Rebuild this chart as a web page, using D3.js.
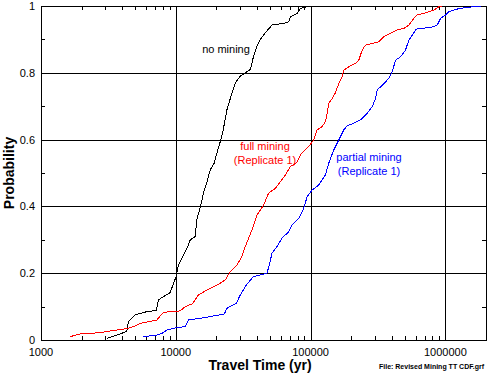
<!DOCTYPE html>
<meta charset="utf-8">
<style>

body {
  margin: 0;
  background: #fff;
}

text {
  font-family: "Liberation Sans", Arial, Helvetica, sans-serif;
}

.tick-label {
  font-size: 11px;
  fill: #000;
}

.axis-title {
  font-size: 14px;
  font-weight: bold;
}

.grid {
  stroke: #000;
  stroke-width: 1px;
  shape-rendering: crispEdges;
}

.curve {
  fill: none;
  stroke-width: 1px;
  shape-rendering: crispEdges;
}

.note {
  font-size: 11px;
}

</style>
<svg width="487" height="374"></svg>
<script src="https://d3js.org/d3.v7.min.js"></script>
<script>

// travel time (yr) and cumulative probability
var noMiningTime = [3110, 3980, 4330, 4450, 4990, 6100, 7150, 7440, 8100, 9080, 9620, 10070, 10470, 10910, 11740,
  12250, 12800, 13940, 14300, 15260, 15850, 16250, 16970, 18010, 19280, 20190, 21370, 22490, 23980, 26120,
  27620, 30070, 32800, 35720, 37760, 40040, 42380, 46140, 51760, 63100, 68760, 70760, 79400, 84000, 94200, 100000];
var noMiningProb = [0.005, 0.02, 0.027, 0.055, 0.075, 0.085, 0.088, 0.12, 0.13, 0.142, 0.17, 0.19, 0.225, 0.24, 0.264,
  0.28, 0.30, 0.31, 0.36, 0.40, 0.43, 0.45, 0.47, 0.51, 0.53, 0.56, 0.594, 0.63, 0.69, 0.74,
  0.77, 0.79, 0.80, 0.81, 0.85, 0.88, 0.90, 0.92, 0.943, 0.948, 0.953, 0.968, 0.978, 0.993, 0.998, 1.0];

var fullMiningTime = [1643, 1949, 2743, 3651, 4331, 5140, 5440, 7235, 8100, 10780, 11740, 13240, 14740, 18010,
  21370, 23280, 25360, 28440, 30970, 32780, 36740, 40040, 44830, 48840, 54770, 59660, 65000, 70760, 78430,
  84000, 91450, 96800, 105400, 111700, 121700, 128800, 132700, 136300, 144500, 152800, 161800, 171400,
  176200, 191900, 215300, 227700, 241300, 255300, 286400, 320600, 349400, 391800, 439300, 491700, 535600,
  583400, 618000, 692300, 821400, 894800, 950000];
var fullMiningProb = [0.01, 0.018, 0.022, 0.03, 0.034, 0.044, 0.05, 0.06, 0.083, 0.087, 0.10, 0.108, 0.135, 0.155,
  0.17, 0.18, 0.205, 0.225, 0.25, 0.28, 0.33, 0.374, 0.404, 0.44, 0.454, 0.474, 0.494, 0.52, 0.53,
  0.554, 0.57, 0.579, 0.599, 0.629, 0.639, 0.654, 0.679, 0.709, 0.723, 0.74, 0.768, 0.788,
  0.808, 0.818, 0.828, 0.838, 0.868, 0.883, 0.888, 0.893, 0.908, 0.918, 0.928, 0.933, 0.943,
  0.963, 0.973, 0.978, 0.988, 0.998, 1.0];

var partialMiningTime = [5755, 7235, 8100, 8590, 10190, 11740, 12430, 15180, 19060, 22890, 23980, 28100, 30090,
  33350, 36740, 37760, 47530, 49680, 51760, 56360, 61390, 68760, 72880, 81580, 88870, 94200, 102600,
  114800, 128800, 136300, 148500, 161800, 176200, 186700, 209100, 234400, 263000, 286400, 303000, 311800,
  330100, 359500, 380300, 403200, 426600, 464500, 505800, 535600, 567600, 600800, 621700, 776800, 870900,
  920600, 1003000, 1062000, 1190000, 1455000, 1826000];
var partialMiningProb = [0.01, 0.015, 0.022, 0.03, 0.037, 0.04, 0.06, 0.065, 0.072, 0.078, 0.095, 0.11, 0.135,
  0.165, 0.185, 0.19, 0.20, 0.23, 0.26, 0.28, 0.305, 0.324, 0.344, 0.364, 0.394, 0.429, 0.449,
  0.464, 0.494, 0.529, 0.569, 0.599, 0.629, 0.641, 0.649, 0.659, 0.679, 0.699, 0.723, 0.749,
  0.758, 0.773, 0.783, 0.803, 0.838, 0.848, 0.868, 0.898, 0.913, 0.928, 0.933, 0.935, 0.943,
  0.963, 0.973, 0.983, 0.99, 0.996, 1.0];

var xTickValues = [1000, 10000, 100000, 1000000];
var yTickValues = [0, 0.2, 0.4, 0.6, 0.8, 1];
var yMinorValues = [0.1, 0.3, 0.5, 0.7, 0.9];

var svg = d3.select("svg"),
    plotLeft = 41, plotRight = 486, plotTop = 6, plotBottom = 340;

var x = d3.scaleLog().domain([1000, 2000000]).range([plotLeft, plotRight]);
var y = d3.scaleLinear().domain([0, 1]).range([plotBottom, plotTop]);

// minor x ticks: 2..9 in each decade
var xMinorValues = x.ticks().filter(function(d) {
  return xTickValues.indexOf(d) < 0 && d < 2000000;
});

var g = svg.append("g");

// major grid lines
g.selectAll(".vgrid")
  .data(xTickValues.slice(1))
  .enter().append("line")
    .attr("class", "grid")
    .attr("x1", function(d) { return Math.round(x(d)) + 0.5; })
    .attr("x2", function(d) { return Math.round(x(d)) + 0.5; })
    .attr("y1", plotTop)
    .attr("y2", plotBottom);

g.selectAll(".hgrid")
  .data(yTickValues.slice(1, -1))
  .enter().append("line")
    .attr("class", "grid")
    .attr("x1", plotLeft)
    .attr("x2", plotRight)
    .attr("y1", function(d) { return Math.round(y(d)) + 0.5; })
    .attr("y2", function(d) { return Math.round(y(d)) + 0.5; });

// frame
g.append("rect")
    .attr("class", "grid")
    .attr("x", plotLeft + 0.5)
    .attr("y", plotTop + 0.5)
    .attr("width", plotRight - plotLeft)
    .attr("height", plotBottom - plotTop)
    .attr("fill", "none");

// minor ticks, pointing inward on all four sides
var tickLen = 4;
xMinorValues.forEach(function(d) {
  var px = Math.round(x(d)) + 0.5;
  g.append("line").attr("class", "grid")
    .attr("x1", px).attr("x2", px).attr("y1", plotBottom).attr("y2", plotBottom - tickLen);
  g.append("line").attr("class", "grid")
    .attr("x1", px).attr("x2", px).attr("y1", plotTop).attr("y2", plotTop + tickLen);
});
yMinorValues.forEach(function(d) {
  var py = Math.round(y(d)) + 0.5;
  g.append("line").attr("class", "grid")
    .attr("x1", plotLeft).attr("x2", plotLeft + tickLen).attr("y1", py).attr("y2", py);
  g.append("line").attr("class", "grid")
    .attr("x1", plotRight).attr("x2", plotRight - tickLen).attr("y1", py).attr("y2", py);
});

// tick labels
g.selectAll(".ylabel")
  .data(yTickValues)
  .enter().append("text")
    .attr("class", "tick-label")
    .attr("x", plotLeft - 6)
    .attr("y", function(d) { return y(d) + 4; })
    .attr("text-anchor", "end")
    .text(function(d) { return d3.format("")(d); });

g.selectAll(".xlabel")
  .data(xTickValues)
  .enter().append("text")
    .attr("class", "tick-label")
    .attr("x", function(d) { return x(d); })
    .attr("y", 356)
    .attr("text-anchor", "middle")
    .text(function(d) { return d; });

// axis titles
svg.append("text")
    .attr("class", "axis-title")
    .attr("x", 260)
    .attr("y", 370)
    .attr("text-anchor", "middle")
    .text("Travel Time (yr)");

svg.append("text")
    .attr("class", "axis-title")
    .attr("transform", "translate(14," + ((plotTop + plotBottom) / 2) + ") rotate(-90)")
    .attr("text-anchor", "middle")
    .text("Probability");

svg.append("text")
    .attr("x", 484)
    .attr("y", 369)
    .attr("text-anchor", "end")
    .style("font-size", "7px")
    .style("font-weight", "bold")
    .text("File: Revised Mining TT CDF.grf");

// curves
var line = d3.line()
    .x(function(d) { return x(d[0]); })
    .y(function(d) { return y(d[1]); });

function drawCurve(times, probs, color) {
  var pts = d3.zip(times, probs);
  g.append("path")
      .datum(pts)
      .attr("class", "curve")
      .attr("stroke", color)
      .attr("d", line);
}

drawCurve(noMiningTime, noMiningProb, "#000");
drawCurve(fullMiningTime, fullMiningProb, "#ff0000");
drawCurve(partialMiningTime, partialMiningProb, "#0000ff");

// curve labels
function label(lines, cx, baseline, color) {
  lines.forEach(function(t, i) {
    g.append("text")
        .attr("class", "note")
        .attr("x", cx)
        .attr("y", baseline + i * 14)
        .attr("text-anchor", "middle")
        .attr("fill", color)
        .text(t);
  });
}

label(["no mining"], 226, 53, "#000");
label(["full mining", "(Replicate 1)"], 265, 150, "#ff0000");
label(["partial mining", "(Replicate 1)"], 369, 161, "#0000ff");

</script>
